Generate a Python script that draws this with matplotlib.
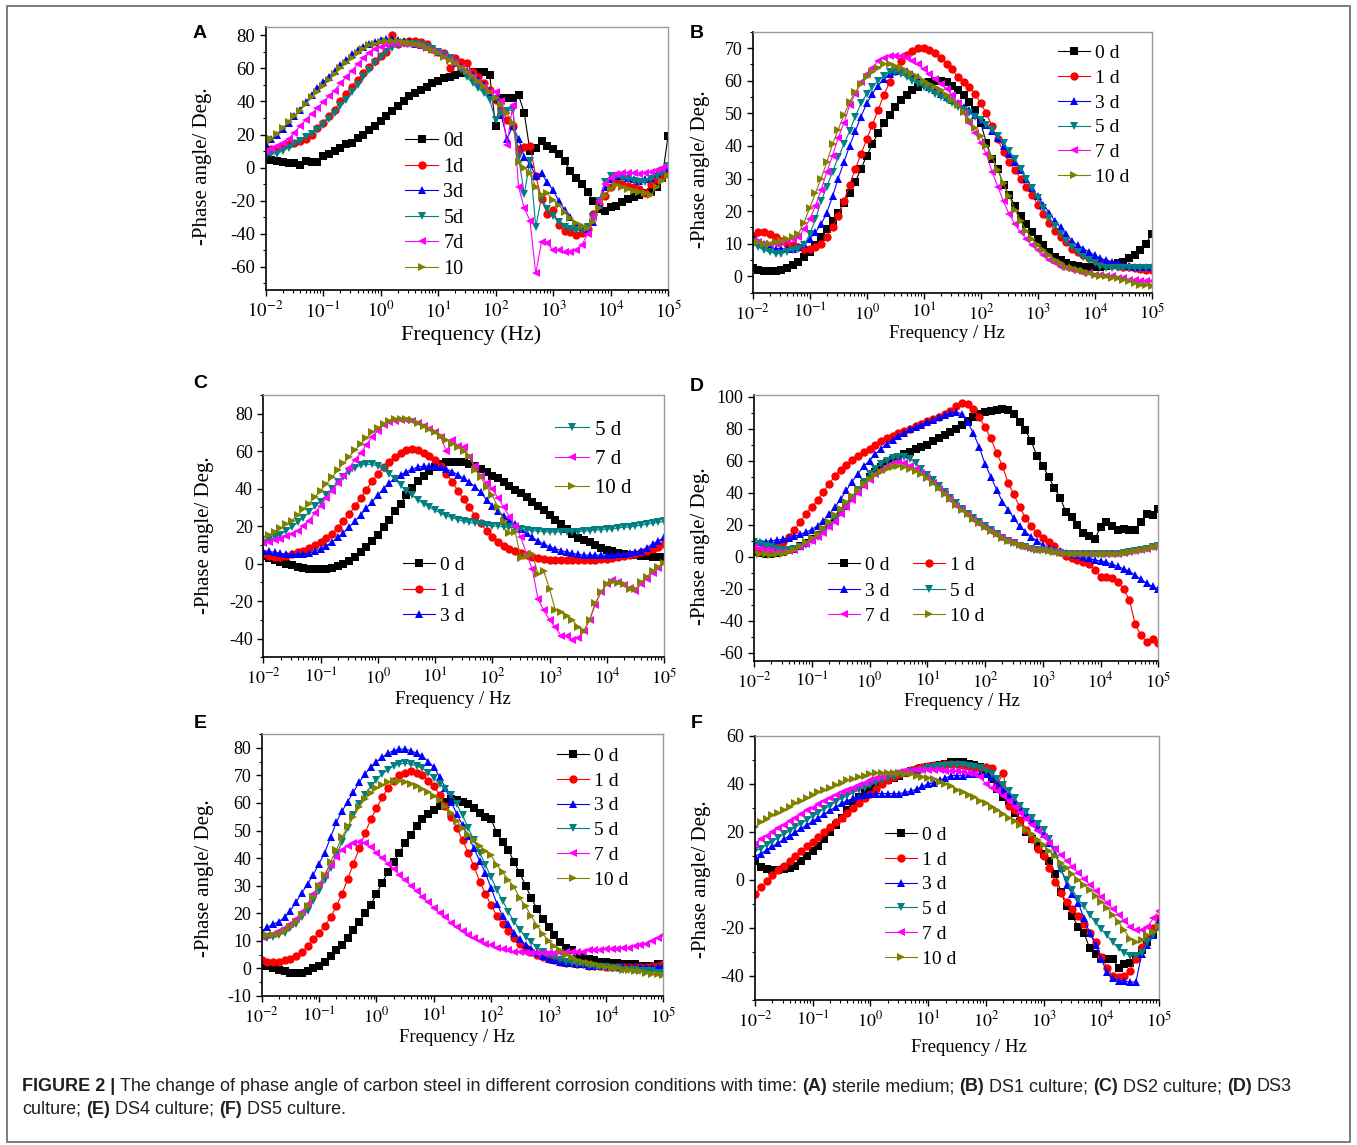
#phase angle vs frequency for carbon steel in six corrosion media (Bode phase plots)
import matplotlib.pyplot as plt
from matplotlib.patches import Rectangle
from matplotlib.ticker import LogLocator, MultipleLocator, FuncFormatter, NullFormatter
import numpy as np

plt.rcParams['font.family'] = 'Liberation Serif'
plt.rcParams['mathtext.fontset'] = 'stix'
plt.rcParams['axes.unicode_minus'] = False

# log10 of the measuring frequency (Hz), same sweep for every curve
log_f = [-2.0, -1.9, -1.8, -1.7, -1.6, -1.5, -1.4, -1.3, -1.2, -1.1,
         -1.0, -0.9, -0.8, -0.7, -0.6, -0.5, -0.4, -0.3, -0.2, -0.1,
         0.0, 0.1, 0.2, 0.3, 0.4, 0.5, 0.6, 0.7, 0.8, 0.9,
         1.0, 1.1, 1.2, 1.3, 1.4, 1.5, 1.6, 1.7, 1.8, 1.9,
         2.0, 2.1, 2.2, 2.3, 2.4, 2.5, 2.6, 2.7, 2.8, 2.9,
         3.0, 3.1, 3.2, 3.3, 3.4, 3.5, 3.6, 3.7, 3.8, 3.9,
         4.0, 4.1, 4.2, 4.3, 4.4, 4.5, 4.6, 4.7, 4.8, 4.9,
         5.0]
freq = [10 ** v for v in log_f]

labels_a = ['0d', '1d', '3d', '5d', '7d', '10']
labels = ['0 d', '1 d', '3 d', '5 d', '7 d', '10 d']
colors = ['#000000', '#ff0000', '#0000ff', '#008080', '#ff00ff', '#808000']
markers = ['s', 'o', '^', 'v', '<', '>']

# (A) sterile medium
a_0d = [5, 4.5, 4, 3.5, 3, 2.5, 1.5, 4, 3.5, 3.5,
        7, 8, 10, 12, 14, 15, 18, 20, 23, 25,
        28, 31, 34, 37, 40, 43, 45, 47, 49, 51,
        52.5, 54, 55, 56, 57, 57, 57.5, 58, 58, 56,
        25, 42, 42, 42, 44, 33, 10, 12, 16, 13,
        11, 8, 4, -2, -6, -10, -15, -20, -25, -26,
        -24, -23, -21, -19, -17.5, -16.5, -15.5, -15, -12, -6,
        19]
a_1d = [10, 11, 12, 13, 14, 15, 16, 17, 20, 24,
        27, 31, 35, 40, 44.5, 49, 53, 57, 61, 64.5,
        67.5, 70, 80, 75, 76, 76.5, 76.5, 76, 75, 72,
        70, 69, 60, 66, 64, 63, 58, 55, 51, 47,
        41, 35, 29, 25, 11, 12.5, 13, -5, -19, -28,
        -25.5, -35, -38.5, -39, -41, -39.5, -37, -28, -22, -17,
        -12, -8, -10, -11, -12, -13, -15.5, -10, -7, -5,
        -3]
a_3d = [14, 17, 20, 23.5, 27, 31, 35, 39.5, 44, 48,
        51.5, 55, 58.5, 62, 65, 68.5, 71, 73, 75, 76,
        77, 77.5, 77.5, 77, 76.5, 76, 75, 74, 73, 71.5,
        70, 68, 66, 63.5, 61, 58.5, 56, 53, 50, 46,
        42, 31.5, 17.5, 25, 17.5, 6.5, 2, -5, -3.5, -9,
        -13.5, -20, -25.5, -30, -35, -36, -37, -33, -22, -12,
        -7, -5, -5, -6, -7, -8, -7, -6, -4, -2,
        0]
a_5d = [7, 8, 8.5, 10, 12, 14, 16, 18.5, 20.5, 23,
        26, 29.5, 33, 37, 41, 45.5, 50, 54.5, 59, 63,
        67, 70, 72.5, 74, 75, 75, 74.5, 74, 73, 71.5,
        70, 68, 66, 63.5, 59, 55, 51, 48, 45, 41,
        28.5, 33, 34, 35, 6.5, -16, 4, -36, -18, -25,
        -29, -33, -36, -37, -38, -38, -36, -30, -20, -9,
        -5, -5, -6, -7, -8, -9, -8.5, -7, -5, -3,
        1]
a_7d = [10, 11.5, 13, 15, 17.5, 21, 25, 29, 32.5, 36,
        39.5, 43, 46.5, 51, 54.5, 58.5, 62.5, 66, 69, 71.5,
        73, 74, 75, 75, 75, 74.5, 74, 73, 72, 70.5,
        69, 67, 65, 62.5, 60, 57.5, 55, 52, 49, 46,
        45.5, 40, 13.5, 38, -11.5, -24.5, -32, -64, -45, -45.5,
        -50, -50, -51, -51, -50, -47, -40, -30, -20, -10,
        -6, -4, -3.5, -3, -3.5, -4, -3.5, -2.5, -1.5, -0.5,
        1]
a_10d = [15, 17.5, 20.5, 24, 27.5, 31, 34.5, 38.5, 42.5, 46,
         49.5, 53, 56.5, 60, 63.5, 66.5, 69.5, 72, 74, 75,
         76, 76.5, 76.5, 76.5, 76, 75.5, 75, 74, 72.5, 71,
         69, 67, 65, 63, 61, 58.5, 55.5, 52.5, 49.5, 46,
         42, 38, 33, 27, 3.5, 0, -3.5, -11.5, -16.5, -15.5,
         -19.5, -22.5, -27, -30.5, -33.5, -35.5, -36.5, -33, -24.5, -17,
         -13, -10.5, -12, -13, -14, -15, -15.5, -16.5, -12, -8,
         -5]

# (B) DS1 culture
b_0d = [2.5, 2, 1.5, 1.5, 1.5, 2, 2.5, 3.5, 4.5, 6,
        7.5, 9.5, 12, 14.5, 17, 19.5, 22.5, 25.5, 29, 33,
        37, 40.5, 44, 47, 49.5, 52, 54, 55.5, 57, 58,
        59, 59.5, 60, 60, 59.5, 58.5, 57, 55.5, 53.5, 51,
        47, 41, 36, 33, 28, 25, 21.5, 18.5, 16, 13.5,
        11.5, 9.5, 7.5, 6, 5, 4.2, 3.6, 3.2, 3, 3,
        3, 3, 3.2, 3.5, 4, 4.5, 5.5, 6.5, 8, 10,
        13]
b_1d = [12.5, 13.5, 13.5, 13, 12, 11, 10, 9.5, 9, 8.5,
        8.5, 9, 10, 12, 15, 18.5, 23, 28, 33, 37.5,
        42, 46.5, 51, 55.5, 59.5, 63, 66, 68, 69, 70,
        70, 69.5, 68.5, 67, 65, 63.5, 61, 59.5, 58, 56,
        53, 50, 46, 42, 38, 35, 32.5, 30, 27.5, 25,
        22, 19, 16.5, 14, 12, 10.5, 8.5, 7.5, 6.5, 5.5,
        5, 4.5, 4, 3.5, 3.2, 3, 2.8, 2.5, 2.2, 2,
        2]
b_3d = [12, 10.5, 10, 9, 8.5, 8.5, 8.5, 8.5, 9, 10,
        11.5, 13.5, 16, 19.5, 24.5, 30, 35, 40, 44.5, 49,
        53, 56, 58.5, 60.5, 62, 63, 63.5, 63, 62, 61,
        59.5, 58, 57, 56, 55, 54, 53, 52, 51, 49.5,
        48, 46.5, 44.5, 42.5, 40, 37.5, 35, 32.5, 30, 27,
        24.5, 22, 19.5, 17, 15, 13, 11, 9.5, 8.5, 7.5,
        6.5, 5.5, 5, 4.5, 4, 3.5, 3.2, 3, 3, 2.8,
        3]
b_5d = [10, 9, 8, 7.5, 7, 7, 7.5, 8, 8.5, 9.5,
        13, 17.5, 23, 27.5, 32, 36.5, 40.5, 44.5, 49, 53,
        56, 58, 60, 61.5, 62.5, 62.5, 62, 61, 60, 59,
        58, 57, 56, 55, 54, 53, 52, 51, 50, 49,
        48, 46.5, 45, 43, 41, 38.5, 36, 33, 30, 27,
        24, 21, 18, 15.5, 13, 11, 9, 7.5, 6, 5,
        4, 3, 2.5, 2.5, 2.5, 2.5, 2.5, 2.5, 2.5, 2.5,
        2.5]
b_7d = [11, 10.5, 10, 10, 10, 10.5, 11, 11.5, 12, 14.5,
        17.5, 21.5, 26.5, 32, 37, 42.5, 47, 52.5, 56, 59.5,
        62, 64, 66, 67, 67.5, 67.5, 67.5, 67, 66, 65,
        63.5, 62, 60.5, 59, 57.5, 55.5, 53, 50, 47, 44,
        41, 37.5, 32, 27.5, 23, 19, 16, 13.5, 11.5, 9.5,
        8, 6.5, 5, 4, 3, 2.5, 2, 1.5, 1, 1,
        0.5, 0.5, 0, 0, -0.5, -0.5, -1, -1, -1.5, -1.5,
        -1.5]
b_10d = [11, 10.5, 10, 10, 10.5, 11, 11.5, 12, 13, 16.5,
         21, 25.5, 30, 35, 40.5, 45, 49.5, 53.5, 56.5, 59,
         61, 62.5, 64, 65, 65, 64.5, 64, 63, 62, 61,
         60, 59, 58, 57, 55.5, 54, 52.5, 50.5, 48, 45.5,
         43, 40, 36.5, 32.5, 28.5, 24.5, 20.5, 17, 14, 11.5,
         9.5, 8, 6.5, 5, 4, 3, 2.5, 2, 1.5, 1,
         0.5, 0, 0, -0.5, -0.5, -1, -1.5, -2, -2.5, -2.5,
         -3]

# (C) DS2 culture
c_0d = [4, 3, 2, 1, 0, -1, -2, -2.5, -3, -3,
        -3, -3, -2.5, -1.5, 0, 1.5, 3.5, 6, 9, 12,
        15.5, 19.5, 23.5, 28, 32, 36.5, 40.5, 44, 47, 49.5,
        51.5, 53, 54, 54.5, 54.5, 54, 53, 52, 50.5, 49,
        47, 45.5, 43.5, 41.5, 39.5, 37.5, 35.5, 33, 31, 28.5,
        26, 23.5, 21, 18.5, 16, 13.5, 12.5, 11.5, 10, 8.5,
        7.5, 6.5, 5.5, 5, 4.5, 4.5, 4, 4, 3.5, 3.5,
        3.5]
c_1d = [5, 4, 3.5, 3.5, 4, 5, 6, 7, 8.5, 10,
        11.5, 13.5, 16, 19, 22.5, 26.5, 30.5, 35, 39.5, 44,
        48, 51.5, 54.5, 57, 59, 60.5, 61, 60.5, 59, 57.5,
        55.5, 52, 48, 43.5, 39, 34.5, 30, 25.5, 21.5, 17.5,
        14, 11.5, 9.5, 8, 6.5, 5.5, 4.5, 3.5, 3, 2.5,
        2, 2, 2, 2, 2, 2, 2, 2, 2, 2.5,
        2.5, 3, 3.5, 4, 4.5, 5, 6, 7, 8, 9,
        10.5]
c_3d = [7, 6.5, 6, 5.5, 5, 5, 5, 5, 5.5, 6.5,
        8, 9.5, 11.5, 14, 16.5, 19.5, 22.5, 26, 29.5, 33,
        36.5, 40, 43, 45.5, 47.5, 49, 50.5, 51.5, 52, 52,
        52, 51.5, 50.5, 49, 47.5, 45.5, 43.5, 41, 38, 34,
        31, 28, 25.5, 23, 21, 18.5, 16.5, 14, 12, 10.5,
        9, 8, 7, 6, 5.5, 5, 4.5, 4.5, 4.5, 4.5,
        4.5, 4.5, 5, 5, 5.5, 6, 7, 8.5, 10.5, 12,
        14]
c_5d = [11, 12.5, 14, 15.5, 17.5, 19.5, 22, 24.5, 27.5, 30.5,
        33, 36.5, 40, 43.5, 46.5, 49, 51, 52.5, 53, 53,
        52, 50.5, 48, 45, 42, 39, 36.5, 34, 32, 30,
        28.5, 27, 25.5, 24.5, 23.5, 22.5, 22, 21.5, 21, 20.5,
        20, 20, 19.5, 19.5, 19, 18.5, 18, 17.5, 17.5, 17,
        17, 17, 17, 17, 17, 17, 17.5, 17.5, 18, 18,
        18.5, 18.5, 19, 19.5, 19.5, 20, 20.5, 21, 21.5, 22,
        22.5]
c_7d = [11, 11.5, 12.5, 13, 14.5, 16, 17.5, 20, 23, 27,
        31, 35, 39, 43, 47, 51, 55.5, 59, 63.5, 67.5,
        71, 74, 75.5, 76, 76.5, 76.5, 76, 75, 73.5, 72,
        70, 67.5, 60, 66, 63, 62, 57, 52, 47, 43,
        40, 35, 30, 25, 20, 14, 5, -3, -19, -25,
        -30, -34, -38.5, -38.5, -41, -39.5, -36, -30, -22, -15,
        -11, -8.5, -10, -11.5, -13, -14.5, -11, -8, -5, -2.5,
        0.5]
c_10d = [14, 15.5, 17, 19, 21, 23, 26, 29, 32, 35.5,
         39, 42.5, 46, 50, 53.5, 57, 60.5, 64, 67, 70,
         72.5, 74.5, 76, 77, 77, 77, 76.5, 75, 73.5, 72,
         70, 68, 66, 64, 62, 60, 57.5, 50, 46, 41,
         36.5, 30, 23, 16.5, 17, 3, 4, 5, -5.5, -4,
         -13.5, -24.5, -26, -28, -30, -34, -36, -30, -21, -15,
         -11, -10, -10.5, -11, -13.5, -13.5, -10, -7, -4, -2,
         0.5]

# (D) DS3 culture
d_0d = [3, 2.5, 2, 2, 2.5, 3, 4, 5, 6.5, 8.5,
        11, 13.5, 16.5, 20, 24, 28, 32, 36.5, 41, 45.5,
        50, 53, 56, 58.5, 60.5, 62.5, 64, 65.5, 67, 68.5,
        70, 72, 74, 76, 78, 80, 82, 84.5, 87, 89,
        90.5, 91, 91.5, 92, 91.5, 89, 84, 79, 72, 63,
        57, 50, 43, 37, 28, 25, 20, 15, 13, 11,
        18.5, 22, 19, 16.5, 17.5, 17, 16.5, 21.5, 27, 26,
        30]
d_1d = [4, 4.5, 5, 6, 7, 9, 12.5, 17, 22, 27,
        31, 35.5, 40.5, 45.5, 50.5, 54.5, 57.5, 60.5, 63, 65.5,
        67.5, 70, 72, 74, 75.5, 77, 78.5, 80, 81.5, 83,
        84.5, 86, 87.5, 89, 91, 94, 96, 95.5, 92, 87,
        81, 74, 65, 57, 46, 39, 31, 24.5, 19, 15,
        12, 9.5, 6.5, 3, 0.5, -1, -2, -3, -4.5, -8,
        -12.5, -12.5, -13.5, -15.5, -20, -27, -42, -49, -53, -51,
        -54]
d_3d = [9, 9, 9.5, 10, 10.5, 11, 12, 13, 14, 15.5,
        17, 19.5, 22.5, 26.5, 31, 36, 41.5, 47, 52, 56.5,
        60, 64, 67.5, 70.5, 73, 75.5, 77.5, 79.5, 81, 82.5,
        84, 85.5, 87, 88.5, 90, 90.5, 89, 84, 77, 68.5,
        58, 50, 42, 34.5, 29.5, 24, 19, 15.5, 12.5, 10,
        7.5, 5.5, 4.5, 3.5, 2.5, 1.5, 1, 0, -1, -2,
        -2.5, -3.5, -4.5, -6, -7.5, -9, -11.5, -14, -16.5, -18.5,
        -20]
d_5d = [9, 8, 7, 6, 5, 4.5, 4.5, 5, 6, 7.5,
        10, 12.5, 15.5, 19, 23, 27.5, 32, 37, 42, 47,
        51.5, 55, 58, 60, 61.5, 62, 62, 61, 58.5, 55,
        51, 48, 44.5, 40.5, 37, 33.5, 30, 27, 24, 21.5,
        19, 16.5, 14, 12, 10, 8.5, 7, 6, 5, 4.5,
        4, 3.5, 3, 2.5, 2, 2, 1.5, 1.5, 1.5, 1.5,
        1.5, 1.5, 2, 2, 2.5, 3, 3.5, 4, 5, 6,
        7]
d_7d = [6, 5, 4, 3.5, 3, 3, 3.5, 4.5, 6, 8,
        10, 12.5, 15, 18.5, 22, 26.5, 31, 35.5, 40, 44,
        48, 51.5, 54.5, 57, 58.5, 59, 58.5, 57, 55, 52.5,
        49.5, 46, 42.5, 39, 35.5, 32, 29, 26, 23, 20.5,
        18, 15.5, 13.5, 11.5, 10, 8.5, 7, 6, 5, 4.5,
        4, 3.5, 3, 2.5, 2, 2, 1.5, 1.5, 1.5, 1.5,
        1.5, 1.5, 2, 2, 2.5, 3, 3.5, 4, 5, 6,
        7]
d_10d = [3, 2, 1.5, 1, 1.5, 2, 3, 4.5, 6.5, 9,
         11.5, 14.5, 18, 22, 26, 30, 34, 38, 42, 45.5,
         48.5, 51, 53, 55, 56, 56.5, 56, 55, 53.5, 51.5,
         49, 46, 43, 39.5, 36, 32.5, 29.5, 26.5, 23.5, 21,
         18.5, 16, 14, 12, 10, 8.5, 7.5, 6.5, 5.5, 4.5,
         4, 3.5, 3, 2.5, 2, 2, 1.5, 1.5, 1.5, 1.5,
         1.5, 1.5, 2, 2, 2.5, 3, 3.5, 4, 5, 6,
         7]

# (E) DS4 culture
e_0d = [2, 1, 0, -0.5, -1, -1.5, -1.5, -1.5, -1, 0,
        1, 2.5, 4.5, 6.5, 8.5, 11, 14, 17, 20, 23,
        27, 31, 35, 38.5, 42, 45.5, 48.5, 51.5, 54, 56,
        57.5, 59, 60.5, 61.5, 61, 60.5, 59.5, 58, 56.5, 55,
        54, 49, 46, 43, 38.5, 34.5, 30, 25.5, 21.5, 18,
        15, 12, 9.5, 7.5, 6.5, 5, 4, 3.5, 3, 2.5,
        2.5, 2, 2, 1.5, 1.5, 1.5, 1, 1, 1, 1.5,
        1.5]
e_1d = [3, 2.5, 2.5, 2.5, 3, 3.5, 4.5, 6, 8, 10.5,
        13, 15.5, 18.5, 22.5, 27, 32.5, 38, 43.5, 49, 54,
        58, 62, 65.5, 68, 70, 71, 71.5, 71, 70, 68,
        66, 63, 59, 55, 51, 46.5, 42, 37, 31.5, 27,
        23, 19, 16, 13.5, 11, 9, 7.5, 6, 5, 4,
        3.5, 3, 2.5, 2, 2, 1.5, 1.5, 1, 1, 1,
        0.5, 0.5, 0.5, 0.5, 0.5, 0.5, 0.5, 0.5, 1, 1,
        1.5]
e_3d = [13.5, 15, 16, 17, 18.5, 21, 24, 27.5, 30.5, 34,
        38, 42, 47.5, 53, 57, 60.5, 64, 67.5, 70.5, 73,
        75, 76.5, 78, 79, 79.5, 79.5, 79, 78, 77, 75,
        73, 69.5, 65.5, 60.5, 56, 52, 48, 43.5, 39, 34.5,
        29, 23.5, 19, 16, 13, 10.5, 8.5, 7, 5.5, 4.5,
        3.5, 3, 2.5, 2, 2, 1.5, 1.5, 1, 1, 1,
        1, 0.5, 0.5, 0.5, 0.5, 0.5, 0.5, 0.5, 0.5, 0.5,
        1]
e_5d = [11, 11, 11.5, 12, 13, 14.5, 16, 18.5, 21, 24.5,
        28, 32, 36.5, 41, 46, 51, 55.5, 59.5, 63, 66,
        68.5, 70.5, 72, 73.5, 74, 74.5, 74, 73.5, 72.5, 71,
        69, 67, 65, 63, 59.5, 55.5, 51, 46.5, 42, 37.5,
        33, 28.5, 24.5, 20.5, 17, 14, 11.5, 9.5, 7.5, 6,
        5, 4, 3, 2.5, 2, 1.5, 1.5, 1, 1, 0.5,
        0.5, 0, 0, -0.5, -0.5, -0.5, -1, -1, -1, -1.5,
        -1.5]
e_7d = [11.5, 12, 12.5, 13.5, 14.5, 16, 18, 20.5, 23.5, 27,
        30.5, 34, 37.5, 40.5, 43, 44.5, 45.5, 46, 45.5, 44,
        42, 40, 38, 36, 34, 32, 30, 28, 26, 24,
        22, 20, 18.5, 16.5, 15, 13.5, 12, 11, 10, 9,
        8.5, 7.5, 7, 6.5, 6, 6, 5.5, 5.5, 5.5, 5.5,
        5.5, 5.5, 5.5, 6, 6, 6, 6, 6.5, 6.5, 6.5,
        7, 7, 7, 7.5, 7.5, 8, 8.5, 9, 10, 11,
        12]
e_10d = [12, 12, 12, 12.5, 13.5, 15, 17, 19.5, 22.5, 26,
         30, 34, 38.5, 43, 47.5, 51.5, 55, 58.5, 61.5, 63.5,
         65.5, 66.5, 67.5, 68, 68, 67.5, 67, 66, 65, 64,
         62.5, 61, 59, 56.5, 53.5, 51, 48.5, 46.5, 44.5, 42.5,
         41, 37.5, 35, 32, 29.5, 25.5, 22.5, 19, 15.5, 12.5,
         10, 8, 6.5, 5, 4, 3, 2.5, 2, 1.5, 1,
         0.5, 0, 0, -0.5, -0.5, -1, -1, -1.5, -2, -2,
         -2.5]

# (F) DS5 culture
f_0d = [8, 5.5, 4.5, 4, 4, 4.5, 5, 6, 8, 10,
        12, 14, 17, 20, 23, 26, 29, 32, 34.5, 36.5,
        38, 39.5, 40.5, 41.5, 42.5, 43.5, 44.5, 45.5, 46, 46.5,
        47, 47.5, 48, 48.5, 49, 49, 49, 48.5, 48, 47,
        45.5, 42, 38, 34.5, 33, 28, 24, 20, 17, 14,
        11, 8, 2.5, -5, -11, -15, -19.5, -22, -28.5, -31,
        -32.5, -33, -33, -36.5, -35, -34.5, -32, -29, -26, -22.5,
        -19]
f_1d = [-6, -3, -0.5, 2, 4, 6, 8, 10, 12, 14,
        16, 18, 20, 22, 24, 26, 28, 30, 32, 34,
        36, 38, 40, 41.5, 43, 44, 45, 46, 46.5, 47,
        47.5, 48, 48, 48.5, 48.5, 48.5, 48, 47.5, 47, 46.5,
        47, 46.5, 40, 44.5, 31, 29, 25, 21, 17, 13,
        10, 5, -1, -5.5, -9, -12, -15, -18.5, -22, -26,
        -32, -36.5, -40, -40.5, -40, -38, -33, -28, -24, -20,
        -16]
f_3d = [10, 11, 12.5, 14, 15.5, 17, 18.5, 20, 21.5, 23,
        24.5, 26, 27.5, 29, 30.5, 32, 33, 34, 35, 35.5,
        36, 36, 36, 36, 36, 36, 36.5, 37, 38, 39,
        40, 40.5, 41.5, 42.5, 43.5, 43.5, 43.5, 44, 44, 44,
        44, 43, 40.5, 38, 35.5, 33, 30.5, 27.5, 25, 22,
        19, 15.5, 11, 5, -2, -6, -9.5, -16, -22, -27,
        -33, -38.5, -41, -42, -42, -42.5, -42.5, -31, -27, -23,
        -17]
f_5d = [12, 13, 14.5, 16, 17.5, 19, 20.5, 22, 23.5, 25,
        26.5, 28, 29.5, 31, 32.5, 34, 35, 36.5, 37.5, 38.5,
        39.5, 40.5, 41.5, 42.5, 43, 44, 44.5, 45, 45.5, 46,
        46.5, 47, 47.5, 47.5, 48, 48, 48, 47.5, 47, 46.5,
        45.5, 44, 42, 39.5, 37, 34, 31, 28.5, 26, 23.5,
        21, 17, 12.5, 4, 0, -4, -8, -11, -14.5, -17.5,
        -20.5, -23, -26, -28.5, -30.5, -31.5, -31.5, -30.5, -26, -23,
        -20]
f_7d = [15, 17, 18.5, 20, 21.5, 23, 24.5, 26, 27.5, 29,
        30, 31.5, 33, 34, 35.5, 36.5, 37.5, 38.5, 39.5, 40.5,
        41.5, 42.5, 43, 44, 44.5, 45, 45.5, 45.5, 46, 46,
        46, 46, 46, 45.5, 45.5, 45.5, 45, 44.5, 44, 43,
        40, 38.5, 37, 35, 33, 30.5, 28, 25.5, 23, 20.5,
        18, 15.5, 13, 10.5, 8, 5.5, 3, 0.5, -2, -4.5,
        -7, -9.5, -12, -14.5, -17, -19.5, -21, -21, -19.5, -16,
        -13]
f_10d = [22, 24, 25.5, 27, 28, 29, 30.5, 32, 33, 34,
         35.5, 36.5, 37.5, 38.5, 39.5, 40.5, 41.5, 42, 43, 43.5,
         44, 44.5, 44.5, 44.5, 44.5, 44.5, 44, 44, 43.5, 43,
         42.5, 42, 41, 40, 39, 37.5, 36.5, 35.5, 34.5, 33,
         32, 30.5, 29, 27.5, 26, 24.5, 23, 21, 19, 16.5,
         14.5, 12, 10, 7, 5, 2.5, 0, -2, -4, -6.5,
         -9, -11.5, -14.5, -17.5, -21, -24.5, -26, -25, -23, -21.5,
         -19]

W, H = 1357, 1145
fig = plt.figure(figsize=(W / 100, H / 100), dpi=100)


def px_box(left, right, top, bottom):
    return [left / W, 1 - bottom / H, (right - left) / W, (bottom - top) / H]


def draw_panel(box, series, names, ylim, ystep, yminor, tick_fs=13):
    ax = fig.add_axes(px_box(*box))
    lines = []
    for vals, name, c, m in zip(series, names, colors, markers):
        ln, = ax.plot(freq, vals, color=c, marker=m, markersize=6, markeredgewidth=0,
                      lw=0.8, label=name)
        lines.append(ln)
    ax.set_xscale('log')
    ax.set_xlim(1e-2, 1e5)
    ax.set_ylim(*ylim)
    ax.xaxis.set_major_locator(LogLocator(base=10, numticks=12))
    ax.xaxis.set_minor_locator(LogLocator(base=10, subs=np.arange(2, 10), numticks=12))
    ax.xaxis.set_major_formatter(FuncFormatter(lambda v, p: r'$10^{%d}$' % round(np.log10(v))))
    ax.xaxis.set_minor_formatter(NullFormatter())
    ax.yaxis.set_major_locator(MultipleLocator(ystep))
    ax.yaxis.set_minor_locator(MultipleLocator(yminor))
    ax.tick_params(which='both', direction='out', top=False, right=False,
                   labelsize=tick_fs, pad=3)
    ax.tick_params(which='major', length=4.5, width=1)
    ax.tick_params(which='minor', length=2.5, width=0.8)
    for s in ('top', 'right'):
        ax.spines[s].set_color('#9a9a9a')
        ax.spines[s].set_linewidth(1)
    for s in ('left', 'bottom'):
        ax.spines[s].set_linewidth(1.2)
    return ax, lines


def set_labels(ax, box, xlab, xlab_pos, ylab_pos, xfs=13.5, yfs=15):
    left, right, top, bottom = box
    ax.set_xlabel(xlab, fontsize=xfs, va='center')
    ax.xaxis.set_label_coords((xlab_pos[0] - left) / (right - left),
                              (bottom - xlab_pos[1]) / (bottom - top))
    ax.set_ylabel('-Phase angle/ Deg.', fontsize=yfs, va='center')
    ax.yaxis.set_label_coords((ylab_pos[0] - left) / (right - left),
                              (bottom - ylab_pos[1]) / (bottom - top))


def add_legend(ax, handles, x_px, ymid_px, row_px, ncol=1, size=14, colsp=1.2):
    fs = size * 100 / 72
    leg = ax.legend(handles=handles, loc='center left',
                    bbox_to_anchor=(x_px / W, 1 - ymid_px / H), bbox_transform=fig.transFigure,
                    frameon=False, fontsize=size, ncol=ncol, handlelength=1.65,
                    handletextpad=0.25, borderpad=0, borderaxespad=0,
                    labelspacing=(row_px - 0.93 * fs) / fs, columnspacing=colsp)
    return leg


box_a = (265.5, 668, 27, 290)
box_b = (752.7, 1151.7, 31.7, 292.7)
box_c = (263.3, 664, 395, 657.3)
box_d = (754, 1158.3, 395, 661)
box_e = (261.7, 663.3, 734, 996)
box_f = (755, 1159, 736, 1000)

ax, ln = draw_panel(box_a, [a_0d, a_1d, a_3d, a_5d, a_7d, a_10d], labels_a, (-74, 85), 20, 10, 13.5)
set_labels(ax, box_a, 'Frequency (Hz)', (471, 335), (202, 166), xfs=16)
add_legend(ax, ln, 405, 205.5, 25.1, size=14.5)

ax, ln = draw_panel(box_b, [b_0d, b_1d, b_3d, b_5d, b_7d, b_10d], labels, (-5, 75), 10, 5)
set_labels(ax, box_b, 'Frequency / Hz', (947, 333), (700, 169))
add_legend(ax, ln, 1058, 115.3, 25.2, size=14)

ax, ln = draw_panel(box_c, [c_0d, c_1d, c_3d, c_5d, c_7d, c_10d], labels, (-50, 90), 20, 10)
set_labels(ax, box_c, 'Frequency / Hz', (453, 699), (205, 535))
leg_top = add_legend(ax, ln[3:], 555, 459.2, 29, size=15)
ax.add_artist(leg_top)
add_legend(ax, ln[:3], 403, 590.8, 26, size=14)

ax, ln = draw_panel(box_d, [d_0d, d_1d, d_3d, d_5d, d_7d, d_10d], labels, (-65, 101), 20, 10)
set_labels(ax, box_d, 'Frequency / Hz', (962, 702), (700, 546))
add_legend(ax, [ln[0], ln[2], ln[4], ln[1], ln[3], ln[5]], 828, 590.8, 25.8, ncol=2, size=14, colsp=1.2)

ax, ln = draw_panel(box_e, [e_0d, e_1d, e_3d, e_5d, e_7d, e_10d], labels, (-10, 85), 10, 5)
set_labels(ax, box_e, 'Frequency / Hz', (457, 1038), (205, 878))
add_legend(ax, ln, 557, 818, 25.2, size=14)

ax, ln = draw_panel(box_f, [f_0d, f_1d, f_3d, f_5d, f_7d, f_10d], labels, (-50, 60), 20, 10)
set_labels(ax, box_f, 'Frequency / Hz', (969, 1048), (702, 879))
add_legend(ax, ln, 885, 897, 25.2, size=14)

# panel letters
for letter, (x, y) in zip('ABCDEF', [(200, 34), (697, 34), (200, 384), (697, 386), (200, 724), (697, 724)]):
    fig.text(x / W, 1 - y / H, letter, family='Liberation Sans', fontweight='bold',
             fontsize=14, ha='center', va='center')

# outer frame
fig.add_artist(Rectangle((7 / W, 1 - 1142 / H), (1350 - 7) / W, (1142 - 6) / H, fill=False,
                         edgecolor='#666666', lw=1.2, transform=fig.transFigure))

# caption with bold pieces
line1 = [('FIGURE 2 |', True),
         ('The change of phase angle of carbon steel in different corrosion conditions with time:', False),
         ('(A)', True), ('sterile medium;', False), ('(B)', True), ('DS1 culture;', False),
         ('(C)', True), ('DS2 culture;', False), ('(D)', True), ('DS3', False)]
line2 = [('culture;', False), ('(E)', True), ('DS4 culture;', False), ('(F)', True),
         ('DS5 culture.', False)]

renderer = fig.canvas.get_renderer()


def text_width(s, size, bold):
    t = fig.text(0, 0, s, family='Liberation Sans', fontsize=size,
                 fontweight='bold' if bold else 'normal')
    w = t.get_window_extent(renderer=renderer).width
    t.remove()
    return w


def line_width(parts, size):
    sp = text_width('x x', size, False) - text_width('xx', size, False)
    return sum(text_width(s, size, b) for s, b in parts) + sp * (len(parts) - 1)


cap_size = 12 * 1272 / line_width(line1, 12)


def draw_caption(parts, y):
    sp = text_width('x x', cap_size, False) - text_width('xx', cap_size, False)
    x = 22
    for s, b in parts:
        fig.text(x / W, 1 - y / H, s, family='Liberation Sans', fontsize=cap_size,
                 fontweight='bold' if b else 'normal', va='baseline', color='#231f20')
        x += text_width(s, cap_size, b) + sp


draw_caption(line1, 1091)
draw_caption(line2, 1114)

fig.savefig('out.png', dpi=100)
